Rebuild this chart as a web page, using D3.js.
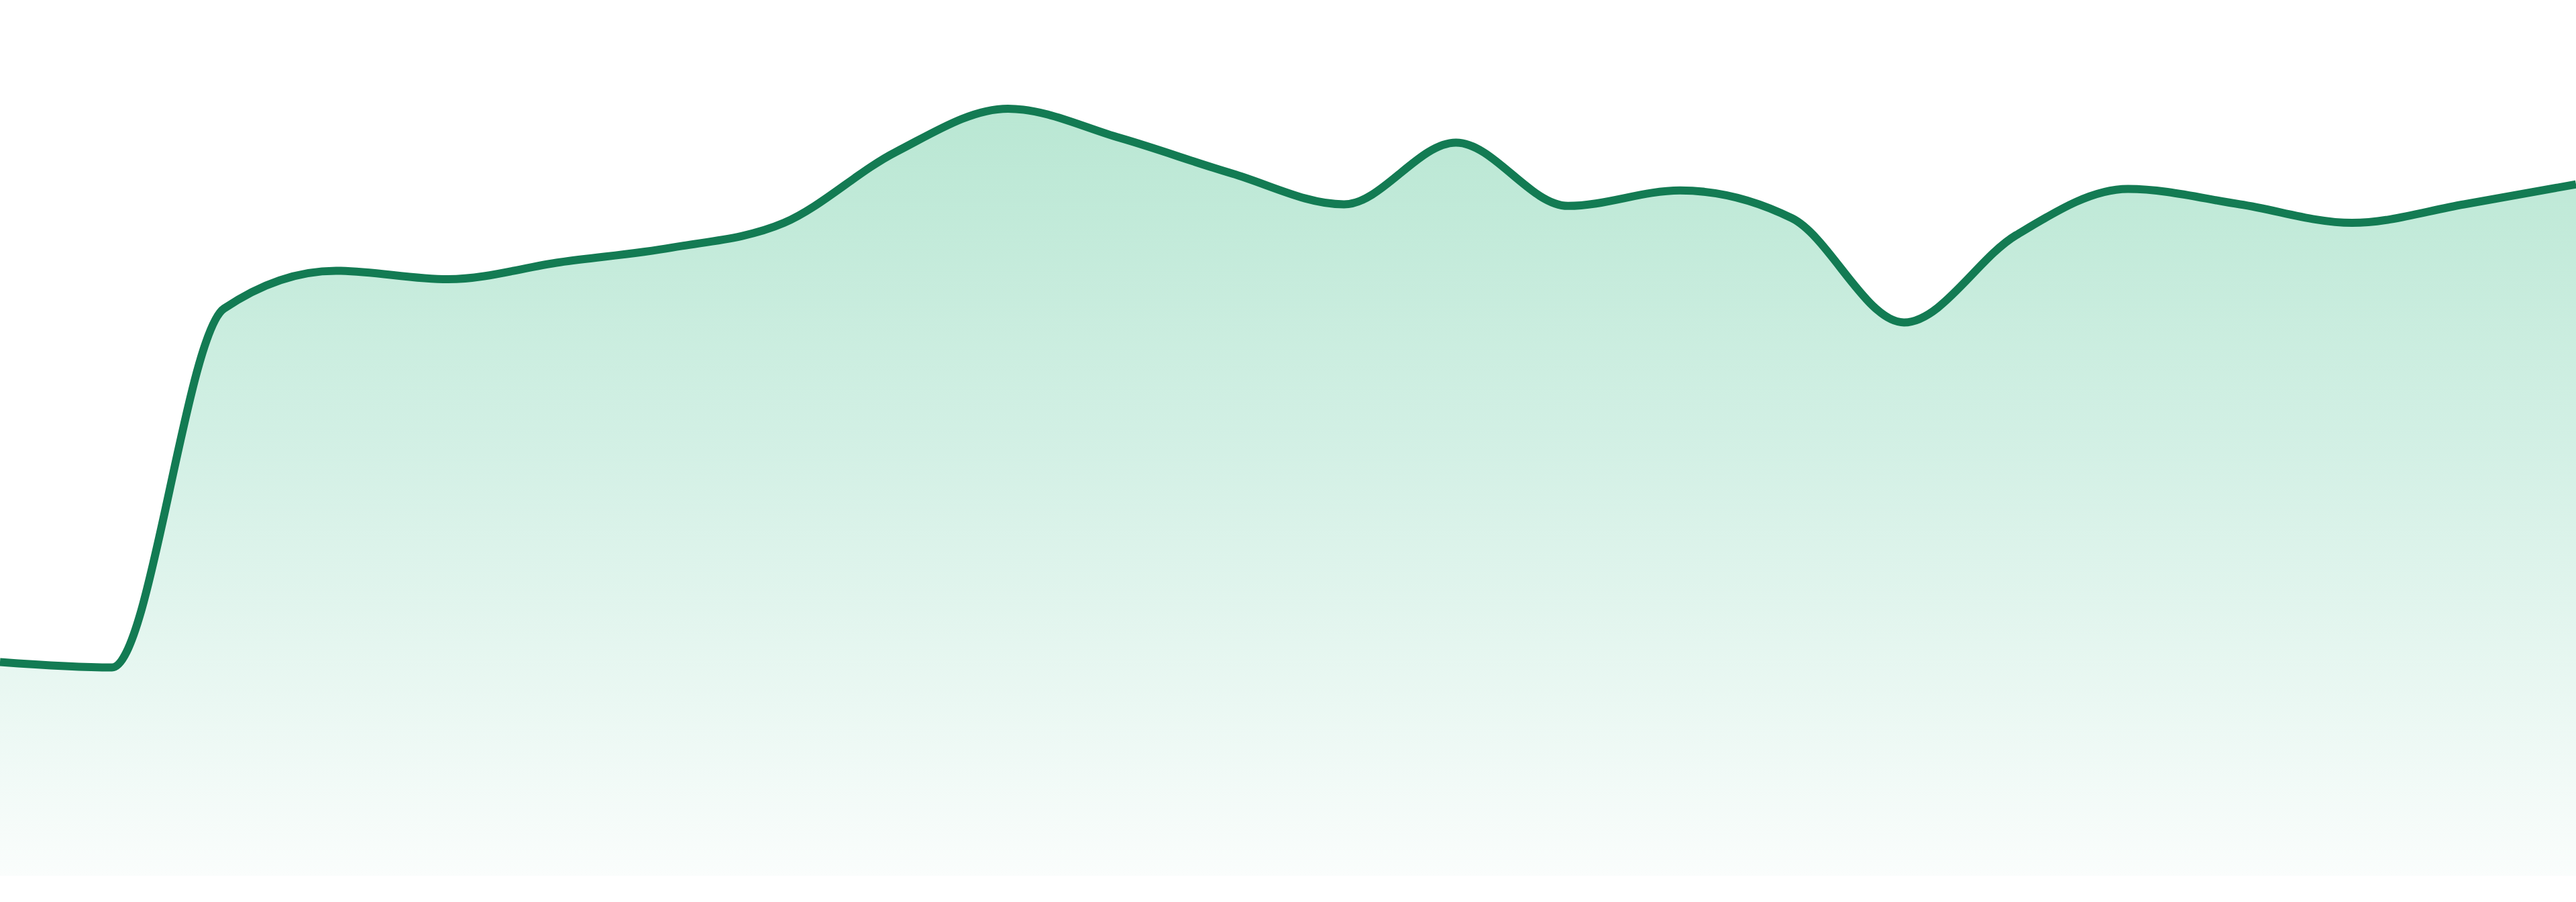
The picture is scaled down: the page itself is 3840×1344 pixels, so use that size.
<!DOCTYPE html>
<html>
<head>
<meta charset="utf-8">
<script src="https://cdn.jsdelivr.net/npm/d3@7"></script>
<style>
    html, body { margin: 0; padding: 0; background: #ffffff; }
    #chart { width: 3840px; height: 1344px; }
</style>
</head>
<body>
<div id="chart"></div>
<script>
// Categories along the x axis (axis is hidden in the reference)
const categories = [
    "1", "2", "3", "4", "5", "6", "7", "8", "9", "10", "11", "12",
    "13", "14", "15", "16", "17", "18", "19", "20", "21", "22", "23", "24"
];

// Series values
const values = [
    27.7, 27.0, 73.5, 78.4, 77.3, 79.5, 81.4, 84.6, 93.8, 99.4, 95.6, 91.0,
    87.0, 95.0, 86.8, 88.8, 85.2, 71.7, 83.0, 89.0, 87.0, 84.6, 87.0, 89.6
];

// Value range used by the hidden y axis
const yDomain = [0, 100];

function createAreaChart() {
    const width = 3840;
    const height = 1344;
    const margin = { top: 155, right: 0, bottom: 39, left: 0 };

    const data = categories.map((c, i) => ({ cat: c, value: values[i] }));

    const svg = d3.select("#chart")
        .append("svg")
        .attr("width", width)
        .attr("height", height);

    const xScale = d3.scalePoint()
        .domain(categories)
        .range([margin.left, width - margin.right]);

    const yScale = d3.scaleLinear()
        .domain(yDomain)
        .range([height - margin.bottom, margin.top]);

    // Soft green gradient fading out towards the baseline
    const defs = svg.append("defs");
    const grad = defs.append("linearGradient")
        .attr("id", "areaFill")
        .attr("gradientUnits", "userSpaceOnUse")
        .attr("x1", 0).attr("x2", 0)
        .attr("y1", yScale(yDomain[1]))
        .attr("y2", yScale(yDomain[0]));
    grad.append("stop").attr("offset", "0%").attr("stop-color", "#b9e7d3");
    grad.append("stop").attr("offset", "45%").attr("stop-color", "#d3f0e5");
    grad.append("stop").attr("offset", "100%").attr("stop-color", "#fafdfc");

    const area = d3.area()
        .x(d => xScale(d.cat))
        .y0(yScale(yDomain[0]))
        .y1(d => yScale(d.value))
        .curve(d3.curveMonotoneX);

    const line = d3.line()
        .x(d => xScale(d.cat))
        .y(d => yScale(d.value))
        .curve(d3.curveMonotoneX);

    svg.append("path")
        .datum(data)
        .attr("fill", "url(#areaFill)")
        .attr("d", area);

    svg.append("path")
        .datum(data)
        .attr("fill", "none")
        .attr("stroke", "#137b53")
        .attr("stroke-width", 12)
        .attr("stroke-linejoin", "round")
        .attr("d", line);
}

createAreaChart();
</script>
</body>
</html>
